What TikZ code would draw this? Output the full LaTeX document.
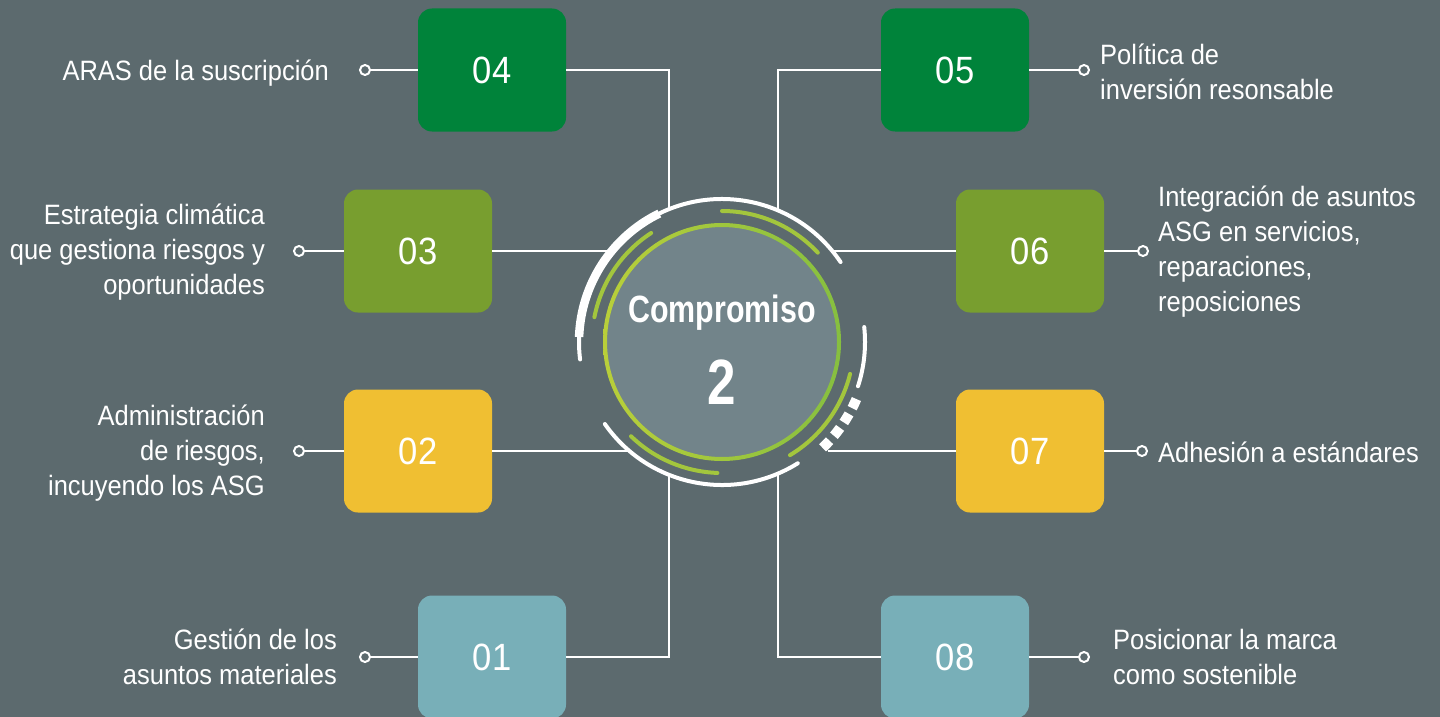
\documentclass[tikz,border=0pt]{standalone}
\usepackage{fontspec}
\setmainfont{Liberation Sans}[FakeStretch=0.91]
\newfontfamily\cfont{Liberation Sans}[FakeStretch=0.8]
\definecolor{bg}{HTML}{5C6A6E}
\definecolor{dgreen}{HTML}{00833A}
\definecolor{olive}{HTML}{789E2F}
\definecolor{gold}{HTML}{F0BF32}
\definecolor{teal}{HTML}{78AFB8}
\definecolor{inner}{HTML}{72848A}
\definecolor{lime}{HTML}{A3C63D}
\definecolor{limeL}{HTML}{B9CF3A}
\definecolor{limeR}{HTML}{86BF40}
\begin{document}
\begin{tikzpicture}[x=1pt,y=-1pt,
  box/.style={rounded corners=14pt, minimum width=148pt, minimum height=123pt, inner sep=0pt,
    text=white, font=\fontsize{38}{40}\selectfont},
  mk/.style={circle, draw=white, line width=2pt, fill=bg, minimum size=10pt, inner sep=0pt},
  conn/.style={draw=white, line width=2pt},
  labl/.style={text=white, inner sep=0pt, font=\fontsize{28}{35}\selectfont, align=right, anchor=east},
  labr/.style={text=white, inner sep=0pt, font=\fontsize{28}{35}\selectfont, align=left, anchor=west},
  warc/.style={draw=white, line width=4pt, line cap=round},
  garc/.style={draw=lime, line width=4pt, line cap=round}]
\fill[bg] (0,0) rectangle (1440,717);
\useasboundingbox (0,0) rectangle (1440,717);

% endpoints on the circle
\coordinate (e04) at (669,209);
\coordinate (e05) at (778,210);
\coordinate (e03) at (612,251);
\coordinate (e06) at (832,251);
\coordinate (e02) at (629,451);
\coordinate (e07) at (828,451);
\coordinate (e01) at (669,475);
\coordinate (e08) at (778,475);

% boxes
\node[box, fill=dgreen] (b04) at (492,70) {04};
\node[box, fill=olive]  (b03) at (418,251) {03};
\node[box, fill=gold]   (b02) at (418,451) {02};
\node[box, fill=teal]   (b01) at (492,657) {01};
\node[box, fill=dgreen] (b05) at (955,70) {05};
\node[box, fill=olive]  (b06) at (1030,251) {06};
\node[box, fill=gold]   (b07) at (1030,451) {07};
\node[box, fill=teal]   (b08) at (955,657) {08};

% connectors to circle
\draw[conn] (b04.east) -| (e04);
\draw[conn] (b03.east) -- (e03);
\draw[conn] (b02.east) -- (e02);
\draw[conn] (b01.east) -| (e01);
\draw[conn] (b05.west) -| (e05);
\draw[conn] (b06.west) -- (e06);
\draw[conn] (b07.west) -- (e07);
\draw[conn] (b08.west) -| (e08);

% markers
\node[mk] (m04) at (365,70) {};
\node[mk] (m03) at (299,251) {};
\node[mk] (m02) at (299,451) {};
\node[mk] (m01) at (365,657) {};
\node[mk] (m05) at (1084,70) {};
\node[mk] (m06) at (1143,251) {};
\node[mk] (m07) at (1142,451) {};
\node[mk] (m08) at (1084,657) {};
\draw[conn] (m04) -- (b04.west);
\draw[conn] (m03) -- (b03.west);
\draw[conn] (m02) -- (b02.west);
\draw[conn] (m01) -- (b01.west);
\draw[conn] (m05) -- (b05.east);
\draw[conn] (m06) -- (b06.east);
\draw[conn] (m07) -- (b07.east);
\draw[conn] (m08) -- (b08.east);

% labels
\node[labl] (t04) at (329,73) {ARAS de la suscripción};
\node[labl] (t03) at (265,252) {Estrategia climática\\que gestiona riesgos y\\oportunidades};
\node[labl] (t02) at (265,453) {Administración\\de riesgos,\\incuyendo los ASG};
\node[labl] (t01) at (337,657) {Gestión de los\\asuntos materiales};
\node[labr] (t05) at (1100,72) {Política de\\inversión resonsable};
\node[labr] (t06) at (1158,252) {Integración de asuntos\\ASG en servicios,\\reparaciones,\\reposiciones};
\node[labr] (t07) at (1158,452) {Adhesión a estándares};
\node[labr] (t08) at (1113,657) {Posicionar la marca\\como sostenible};

% central circle
\node[circle, fill=inner, minimum size=234pt, inner sep=0pt] (c) at (722,342) {};
\begin{scope}[shift={(722,342)}, y=1pt]
  \shade[left color=limeL, right color=limeR, even odd rule] (0,0) circle[radius=119] (0,0) circle[radius=115];
  % white outer arcs
  \draw[warc] (34:143) arc[start angle=34, end angle=187, radius=143];
  \draw[draw=white, line width=8.5pt] (116:143) arc[start angle=116, end angle=178, radius=143];
  \draw[warc] (-18:143) arc[start angle=-18, end angle=6, radius=143];
  \draw[warc] (215:143) arc[start angle=215, end angle=302, radius=143];
  \draw[draw=white, line width=10pt, dash pattern=on 10pt off 6.6pt] (-23:146) arc[start angle=-23, end angle=-47, radius=146];
  % green arcs
  \draw[garc] (43:131) arc[start angle=43, end angle=90, radius=131];
  \draw[garc] (123:130) arc[start angle=123, end angle=169, radius=130];
  \draw[garc] (-59:132) arc[start angle=-59, end angle=-14, radius=132];
  \draw[garc] (226:131) arc[start angle=226, end angle=268, radius=131];
\end{scope}
\node[text=white, font=\cfont\bfseries\fontsize{38}{40}\selectfont, inner sep=0pt] (ttl) at (722,313) {Compromiso};
\node[text=white, font=\cfont\bfseries\fontsize{64}{66}\selectfont, inner sep=0pt] (num) at (722,382) {2};
\end{tikzpicture}
\end{document}
